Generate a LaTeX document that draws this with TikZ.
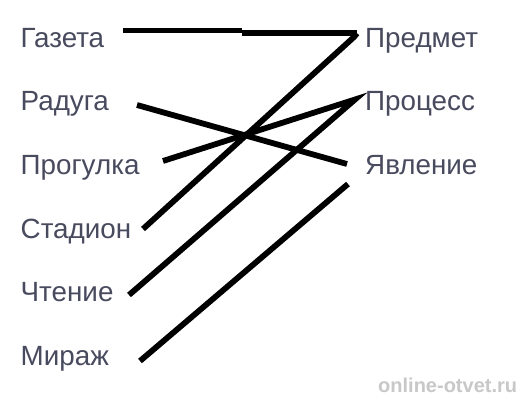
\documentclass[tikz,border=0pt]{standalone}
\usepackage{fontspec}
\setmainfont{Liberation Sans}
\definecolor{txt}{RGB}{72,74,94}
\definecolor{wmgrey}{RGB}{200,200,200}
\begin{document}
\begin{tikzpicture}[x=1pt,y=-1pt,
  lbl/.style={anchor=base west,inner sep=0pt,text=txt,font=\fontsize{27.8}{32}\selectfont},
  wm/.style={anchor=base west,inner sep=0pt,text=wmgrey,font=\bfseries\fontsize{20}{22}\selectfont},
  link/.style={line width=5.8pt,black}]
\useasboundingbox (0,0) rectangle (523,400);
\fill[white] (0,0) rectangle (523,400);
% left column
\node[lbl] (gazeta)   at (20.5,47)    {Газета};
\node[lbl] (raduga)   at (20.5,110.5) {Радуга};
\node[lbl] (progulka) at (20.5,174.5) {Прогулка};
\node[lbl] (stadion)  at (20.5,238)   {Стадион};
\node[lbl] (chtenie)  at (20.5,301.5) {Чтение};
\node[lbl] (mirazh)   at (20.5,365)   {Мираж};
% right column
\node[lbl] (predmet)  at (365,47)     {Предмет};
\node[lbl] (process)  at (365,110.5)  {Процесс};
\node[lbl] (yavlenie) at (365,174.5)  {Явление};
% connector ends
\coordinate (gE) at (123,30.5);
\coordinate (gM) at (242,30.5);
\coordinate (gN) at (242,33.3);
\coordinate (pE) at (357,33.3);
\coordinate (pF) at (354,37);
\coordinate (sE) at (143,229);
\coordinate (rE) at (137,105);
\coordinate (yE) at (347,164);
\coordinate (prE) at (163,161);
\coordinate (cE) at (355,99.5);
\coordinate (chE) at (129,295);
\coordinate (yF) at (348,184);
\coordinate (mE) at (140,361);
% connectors
\draw[link] (gE) -- (gM);
\draw[link] (gN) -- (pE);
\draw[link,line join=miter] (pE) -- (pF) -- (sE);
\draw[link] (rE) -- (yE);
\draw[link] (prE) -- (cE) -- (chE);
\draw[link] (yF) -- (mE);
% watermark
\node[wm] (wmk) at (378,392) {online-otvet.ru};
\end{tikzpicture}
\end{document}
